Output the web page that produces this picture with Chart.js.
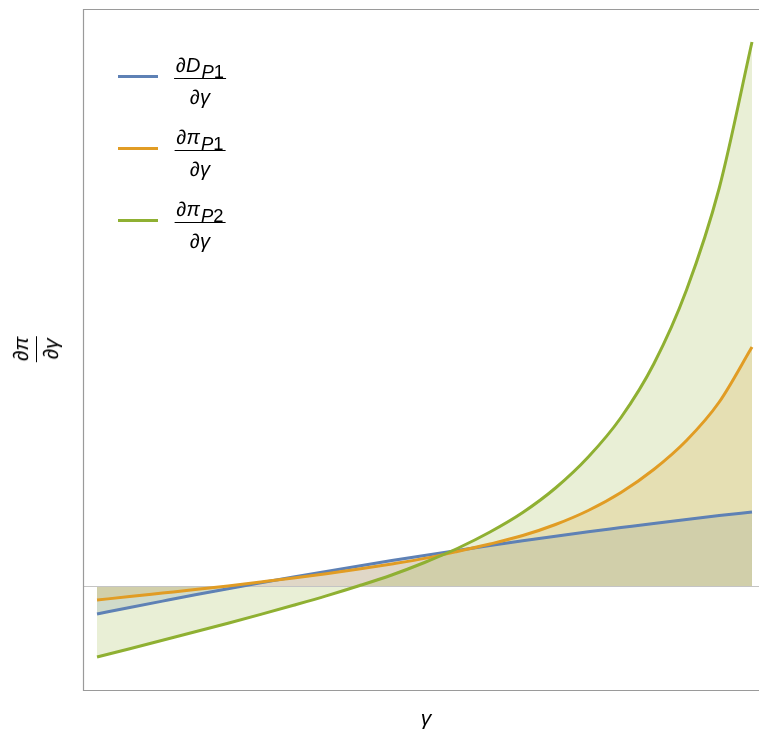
<!DOCTYPE html>
<html>
<head>
<meta charset="utf-8">
<script src="https://cdn.jsdelivr.net/npm/chart.js@4/dist/chart.umd.min.js"></script>
<style>
  html, body { margin: 0; padding: 0; background: #fff; overflow: hidden; }
  #wrap { position: relative; width: 759px; height: 729px; font-family: "Liberation Sans", Arial, sans-serif; }
  #chart { position: absolute; left: 0; top: 0; }
  .frac { position: absolute; display: flex; flex-direction: column; align-items: center; font-style: italic; color: #000; }
  .frac .num { white-space: nowrap; line-height: 20px; padding: 0 2px 3px 2px; border-bottom: 1.5px solid #000; }
  .frac .den { white-space: nowrap; line-height: 20px; padding-top: 8px; }
  .frac sub { font-size: 0.92em; vertical-align: -6px; line-height: 0; margin-left: 1px; }
  .frac sub .n { font-style: normal; }
  .swatch { position: absolute; height: 3px; width: 40px; }
  #ytitle { left: 36px; top: 349px; transform: translate(-50%, -50%) rotate(-90deg); font-size: 21px; }
  #ytitle .num { line-height: 22px; padding: 0 1px 4px 1px; }
  #ytitle .den { line-height: 22px; padding-top: 3px; }
  #xtitle { position: absolute; left: 426px; top: 718px; transform: translate(-50%, -50%); font-style: italic; font-size: 21px; }
</style>
</head>
<body>
<div id="wrap">
  <canvas id="chart" width="759" height="729"></canvas>
  <div id="legend"></div>
  <div class="frac" id="ytitle"><span class="num">∂π</span><span class="den">∂γ</span></div>
  <div id="xtitle">γ</div>
</div>
<script>
// γ grid on which the three derivatives are sampled
const gammaValues = [0, 0.05, 0.10, 0.15, 0.20, 0.25, 0.30, 0.35, 0.40, 0.45, 0.50,
                     0.55, 0.60, 0.65, 0.70, 0.75, 0.80, 0.85, 0.90, 0.95, 1.00];

// ∂D_{P1}/∂γ
const dDemandP1 = [-0.28, -0.215, -0.151, -0.088, -0.028, 0.032, 0.09, 0.146, 0.201, 0.254, 0.306,
                   0.356, 0.405, 0.452, 0.498, 0.542, 0.584, 0.626, 0.666, 0.704, 0.74];

// ∂π_{P1}/∂γ
const dProfitP1 = [-0.14, -0.106, -0.071, -0.036, 0.001, 0.04, 0.08, 0.123, 0.169, 0.22, 0.276,
                   0.345, 0.42, 0.505, 0.615, 0.755, 0.935, 1.165, 1.455, 1.84, 2.39];

// ∂π_{P2}/∂γ
const dProfitP2 = [-0.71, -0.627, -0.543, -0.458, -0.372, -0.284, -0.193, -0.099, 0.002, 0.11, 0.235,
                   0.375, 0.54, 0.735, 0.98, 1.29, 1.685, 2.22, 2.96, 3.98, 5.44];

// legend entries: [variable, subscript letter, subscript index]
const legendLabels = [["D", "P", "1"], ["π", "P", "1"], ["π", "P", "2"]];
const seriesColors = ["#5E81B5", "#E19C24", "#8FB032"];
const fillColors = ["rgba(94,129,181,0.2)", "rgba(225,156,36,0.2)", "rgba(143,176,50,0.2)"];

const seriesValues = [dDemandP1, dProfitP1, dProfitP2];

function toPoints(ys) {
  return gammaValues.map((g, i) => ({ x: g, y: ys[i] }));
}

// frame (left, top, bottom) and the zero reference line
const framePlugin = {
  id: 'frame',
  beforeDatasetsDraw(chart) {
    const { ctx, chartArea: a, scales } = chart;
    const y0 = scales.y.getPixelForValue(0);
    ctx.save();
    ctx.strokeStyle = '#c4c4c4';
    ctx.lineWidth = 1;
    ctx.beginPath();
    ctx.moveTo(a.left, Math.round(y0) + 0.5);
    ctx.lineTo(chart.width, Math.round(y0) + 0.5);
    ctx.stroke();
    ctx.restore();
  },
  afterDatasetsDraw(chart) {
    const { ctx, chartArea: a } = chart;
    ctx.save();
    ctx.strokeStyle = '#9a9a9a';
    ctx.lineWidth = 1.2;
    ctx.beginPath();
    ctx.moveTo(chart.width, a.top + 0.5);
    ctx.lineTo(a.left + 0.5, a.top + 0.5);
    ctx.lineTo(a.left + 0.5, a.bottom + 0.5);
    ctx.lineTo(chart.width, a.bottom + 0.5);
    ctx.stroke();
    ctx.restore();
  }
};

const chart = new Chart(document.getElementById('chart'), {
  type: 'line',
  data: {
    datasets: seriesValues.map((vals, i) => ({
      label: legendLabels[i].join(''),
      data: toPoints(vals),
      borderColor: seriesColors[i],
      backgroundColor: fillColors[i],
      borderWidth: 3,
      pointRadius: 0,
      fill: 'origin',
      cubicInterpolationMode: 'monotone',
      order: 2 - i
    }))
  },
  options: {
    responsive: false,
    animation: false,
    events: [],
    layout: { padding: { left: 83, top: 9, right: 0, bottom: 39 } },
    scales: {
      x: { type: 'linear', min: -0.0214, max: 1.0107, display: false },
      y: { type: 'linear', min: -1.04, max: 5.77, display: false }
    },
    plugins: {
      legend: { display: false },
      tooltip: { enabled: false },
      filler: { drawTime: 'beforeDatasetsDraw' }
    }
  },
  plugins: [framePlugin]
});

// legend with fraction labels, built from the datasets
const legendBox = document.getElementById('legend');
chart.data.datasets.forEach((ds, i) => {
  const y = 76 + i * 72;
  const sw = document.createElement('div');
  sw.className = 'swatch';
  sw.style.left = '118px';
  sw.style.top = (y - 1.5) + 'px';
  sw.style.background = ds.borderColor;
  legendBox.appendChild(sw);

  const [v, s, n] = legendLabels[i];
  const fr = document.createElement('div');
  fr.className = 'frac';
  fr.style.left = '200px';
  fr.style.top = (y - 21) + 'px';
  fr.style.fontSize = '20px';
  fr.style.transform = 'translateX(-50%)';
  fr.innerHTML = '<span class="num">∂' + v + '<sub>' + s + '<span class="n">' + n + '</span></sub></span><span class="den">∂γ</span>';
  legendBox.appendChild(fr);
});
</script>
</body>
</html>
